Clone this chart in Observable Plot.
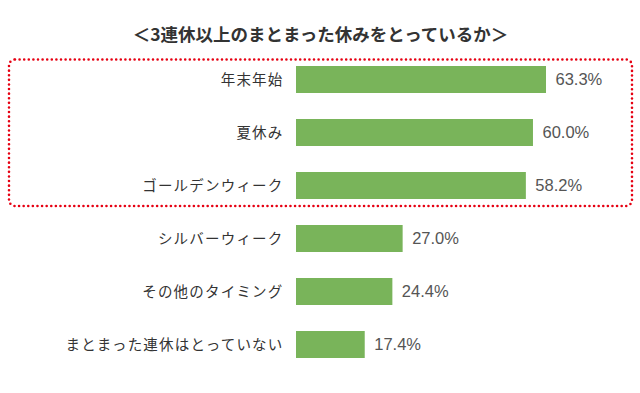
<!DOCTYPE html>
<html><head><meta charset="utf-8">
<script src="https://cdn.jsdelivr.net/npm/d3@7"></script>
<script src="https://cdn.jsdelivr.net/npm/@observablehq/plot@0.6"></script>
<style>
html,body{margin:0;padding:0;background:#fff;}
#chart{width:640px;height:393px;}
</style></head>
<body><div id="chart"></div>
<script>
const title = "＜3連休以上のまとまった休みをとっているか＞";
const categories = ["年末年始","夏休み","ゴールデンウィーク","シルバーウィーク","その他のタイミング","まとまった連休はとっていない"];
const values = [63.3, 60.0, 58.2, 27.0, 24.4, 17.4];
const highlighted = ["年末年始","夏休み","ゴールデンウィーク"];

const data = categories.map((c,i)=>({category:c, value:values[i]}));
const jp = "'Noto Sans CJK JP', sans-serif";
const num = "'Liberation Sans', Arial, sans-serif";

const plot = Plot.plot({
  width: 640, height: 393,
  marginLeft: 296, marginRight: 0, marginTop: 53.5, marginBottom: 21.5,
  style: {background: "#fff", overflow: "visible"},
  x: {domain: [0, 87.1], axis: null},
  y: {domain: categories, paddingInner: 0.49, paddingOuter: 0.245, label: null},
  marks: [
    Plot.barX(data, {x: "value", y: "category", fill: "#79b45a"}),
    Plot.text(data, {x: "value", y: "category", text: d => d.value.toFixed(1) + "%", textAnchor: "start", dx: 9, fill: "#555", fontSize: 16.5, fontFamily: num}),
    Plot.axisY({tickSize: 0, tickPadding: 13, fontSize: 14.5, fill: "#333", fontFamily: jp, label: null}),
    Plot.text([title], {frameAnchor: "top", dx: -148, dy: -25, fontSize: 17.5, fontWeight: "bold", fill: "#333", fontFamily: jp})
  ]
});

// highlight box around the top three categories, positioned from the plot's scales
const ys = plot.scale("y");
const y0 = ys.apply(highlighted[0]) - 6.5;
const y1 = ys.apply(highlighted[highlighted.length-1]) + ys.bandwidth + 7;
d3.select(plot).append("rect")
  .attr("x", 9).attr("y", y0).attr("width", 623).attr("height", y1 - y0)
  .attr("rx", 6).attr("ry", 6)
  .attr("fill", "none").attr("stroke", "#e60012").attr("stroke-width", 2.6)
  .attr("stroke-linecap", "round").attr("stroke-dasharray", "0 4.6");

d3.select(plot).selectAll("g[aria-label='y-axis tick label'] text").style("letter-spacing", "1.2px");
document.getElementById("chart").appendChild(plot);
</script></body></html>
